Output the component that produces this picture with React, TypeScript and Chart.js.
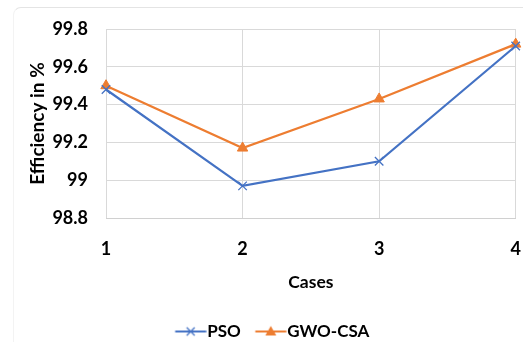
import React, { useEffect, useRef } from "react";
import { Chart, registerables } from "chart.js";

Chart.register(...registerables);

const categories = ["1", "2", "3", "4"];
const psoValues = [99.48, 98.97, 99.1, 99.71];
const gwoValues = [99.5, 99.17, 99.43, 99.72];
const seriesNames = ["PSO", "GWO-CSA"];
const yMin = 98.8;
const yMax = 99.8;
const yStep = 0.2;

const BLUE = "#4472C4";
const ORANGE = "#ED7D31";
const FONT = "Lato";

function legendIcon(color: string, kind: "cross" | "tri"): HTMLCanvasElement {
  const c = document.createElement("canvas");
  c.width = 40;
  c.height = 14;
  const ctx = c.getContext("2d")!;
  ctx.strokeStyle = color;
  ctx.lineWidth = 2;
  ctx.beginPath();
  ctx.moveTo(8.5, 7);
  ctx.lineTo(39.5, 7);
  ctx.stroke();
  const cx = 24;
  if (kind === "cross") {
    ctx.lineWidth = 1.3;
    ctx.beginPath();
    ctx.moveTo(cx - 4, 3);
    ctx.lineTo(cx + 4, 11);
    ctx.moveTo(cx + 4, 3);
    ctx.lineTo(cx - 4, 11);
    ctx.stroke();
  } else {
    ctx.fillStyle = color;
    ctx.beginPath();
    ctx.moveTo(cx, 1.5);
    ctx.lineTo(cx + 5.5, 11);
    ctx.lineTo(cx - 5.5, 11);
    ctx.closePath();
    ctx.fill();
  }
  return c;
}

export default function App() {
  const ref = useRef<HTMLCanvasElement>(null);

  useEffect(() => {
    document.body.style.margin = "0";
    const icons = [legendIcon(BLUE, "cross"), legendIcon(ORANGE, "tri")];
    const chart = new Chart(ref.current!, {
      type: "line",
      data: {
        labels: categories,
        datasets: [
          {
            label: seriesNames[0],
            data: psoValues,
            borderColor: BLUE,
            backgroundColor: BLUE,
            borderWidth: 2.2,
            pointStyle: "crossRot",
            pointRadius: 6,
            pointBorderWidth: 1.3,
            tension: 0,
          },
          {
            label: seriesNames[1],
            data: gwoValues,
            borderColor: ORANGE,
            backgroundColor: ORANGE,
            borderWidth: 2.2,
            pointStyle: "triangle",
            pointRadius: 6,
            pointBorderWidth: 1,
            tension: 0,
          },
        ],
      },
      options: {
        responsive: false,
        animation: false,
        layout: { padding: { top: 29, left: 28, right: 7, bottom: 0 } },
        scales: {
          x: {
            type: "category",
            offset: false,
            grid: { color: "#d9d9d9", drawTicks: false },
            border: { color: "#d0d0d0" },
            ticks: {
              padding: 20,
              color: "#000",
              font: { family: FONT, size: 18, weight: "bold" },
            },
            title: {
              display: true,
              text: "Cases",
              color: "#000",
              padding: { top: 0, bottom: 16.5 },
              font: { family: FONT, size: 17.5, weight: "bold" },
            },
            afterFit: (s: any) => {
              s.height = 91;
              s.paddingRight = 7;
              s.paddingLeft = 0;
            },
          },
          y: {
            min: yMin,
            max: yMax,
            grid: { color: "#d9d9d9", drawTicks: false },
            border: { display: false },
            ticks: {
              stepSize: yStep,
              padding: 18,
              color: "#000",
              font: { family: FONT, size: 18, weight: "bold" },
              callback: (v: any) => String(Number(Number(v).toFixed(1))),
            },
            title: {
              display: true,
              text: "Efficiency in %",
              color: "#000",
              padding: { top: 0, bottom: 0 },
              font: { family: FONT, size: 19, weight: "bold", lineHeight: 1 },
            },
            afterFit: (s: any) => {
              s.width = 78;
            },
          },
        },
        plugins: {
          tooltip: { enabled: false },
          legend: {
            position: "bottom",
            labels: {
              usePointStyle: true,
              pointStyleWidth: 24,
              padding: 14,
              color: "#000",
              font: { family: FONT, size: 17, weight: "bold" },
              generateLabels: (ch: any) => {
                const items = Chart.defaults.plugins.legend.labels.generateLabels(ch);
                return items.map((it: any, i: number) => ({ ...it, pointStyle: icons[i] }));
              },
            },
          },
        },
        elements: { point: { hitRadius: 0 } },
      } as any,
    });
    return () => chart.destroy();
  }, []);

  return (
    <div style={{ position: "relative", width: 523, height: 342, overflow: "hidden", background: "#fff" }}>
      <div
        style={{
          position: "absolute",
          left: 13,
          top: 7,
          width: 540,
          height: 400,
          borderTop: "1px solid #e4e4e4",
          borderLeft: "1px solid #f3f3f3",
          borderTopLeftRadius: 8,
        }}
      />
      <canvas ref={ref} width={523} height={350} style={{ position: "absolute", left: 0, top: 0 }} />
    </div>
  );
}
